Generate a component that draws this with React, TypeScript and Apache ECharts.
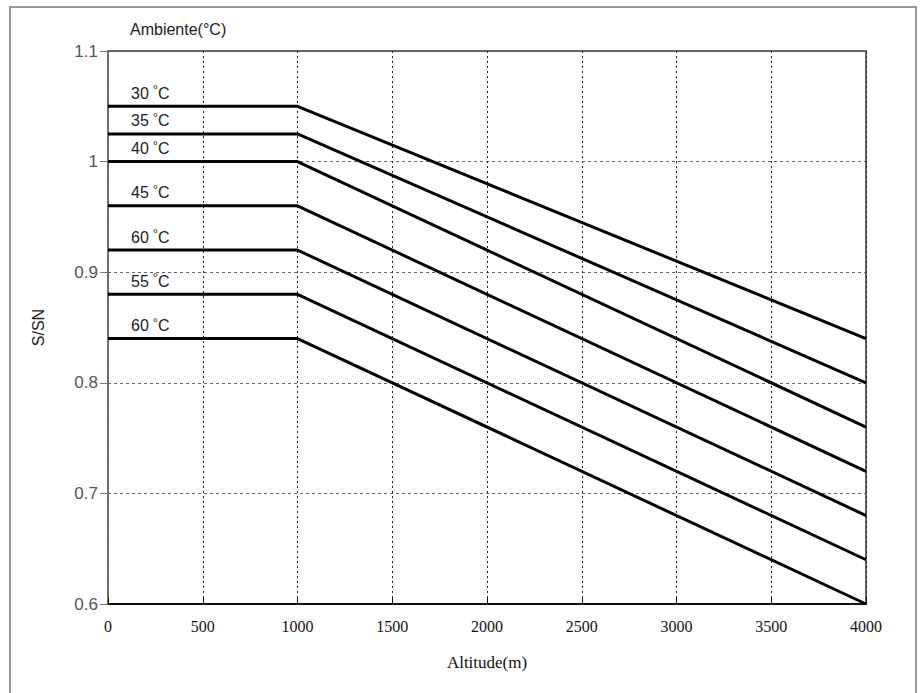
import React, { useEffect, useRef } from "react";
import * as echarts from "echarts";

const altitudes = [0, 1000, 4000];
const tempLabels = ["30", "35", "40", "45", "60", "55", "60"];
const startValues = [1.05, 1.025, 1.0, 0.96, 0.92, 0.88, 0.84];
const endValues = [0.84, 0.8, 0.76, 0.72, 0.68, 0.64, 0.6];
const xTicks = [0, 500, 1000, 1500, 2000, 2500, 3000, 3500, 4000];
const yTicks = [0.6, 0.7, 0.8, 0.9, 1, 1.1];

export default function App() {
  const ref = useRef<HTMLDivElement>(null);
  useEffect(() => {
    if (!ref.current) return;
    const chart = echarts.init(ref.current, null, { renderer: "svg" });
    const series = startValues.map((s, i) => ({
      type: "line",
      name: tempLabels[i],
      symbol: "circle",
      symbolSize: 0.1,
      showSymbol: true,
      itemStyle: { color: "rgba(0,0,0,0)" },
      lineStyle: { color: "#000", width: 3 },
      label: { show: false },
      data: [
        {
          value: [altitudes[0], s],
          label: {
            show: true,
            position: "right",
            offset: [18, -14],
            formatter: `{n|${tempLabels[i]}}{d|°}{c|C}`,
            rich: {
              n: { fontFamily: "Liberation Sans", fontSize: 16, color: "#222", verticalAlign: "bottom", lineHeight: 18 },
              d: { fontFamily: "Liberation Sans", fontSize: 13, color: "#222", verticalAlign: "top", lineHeight: 18, padding: [0, 0, 0, 4] },
              c: { fontFamily: "Liberation Sans", fontSize: 16, color: "#222", verticalAlign: "bottom", lineHeight: 18 },
            },
          },
        },
        [altitudes[1], s],
        [altitudes[2], endValues[i]],
      ],
    }));
    chart.setOption({
      animation: false,
      backgroundColor: "#fff",
      grid: {
        left: 108,
        right: 55,
        top: 51,
        bottom: 89,
        show: true,
        borderColor: "#333",
        borderWidth: 1.5,
        backgroundColor: "transparent",
      },
      graphic: [
        {
          type: "rect",
          shape: { x: 10, y: 7, width: 906, height: 700 },
          style: { fill: "none", stroke: "#999", lineWidth: 2 },
          silent: true,
        },
        {
          type: "text",
          left: 130,
          top: 21,
          style: { text: "Ambiente(°C)", fontFamily: "Liberation Sans", fontSize: 16, fill: "#222" },
        },
      ],
      xAxis: {
        type: "value",
        min: 0,
        max: 4000,
        interval: 500,
        name: "Altitude(m)",
        nameLocation: "middle",
        nameGap: 50,
        nameTextStyle: { fontFamily: "Liberation Serif", fontSize: 17, color: "#111" },
        axisLine: { show: true, lineStyle: { color: "#111", width: 2 } },
        axisTick: { show: true, inside: true, length: 6, lineStyle: { color: "#111" } },
        axisLabel: {
          fontFamily: "Liberation Serif",
          fontSize: 16,
          color: "#111",
          margin: 14,
          formatter: (v: number) => (xTicks.includes(v) ? String(v) : ""),
        },
        splitLine: { show: true, lineStyle: { color: "#222", type: [2, 3], width: 1 } },
      },
      yAxis: {
        type: "value",
        min: 0.6,
        max: 1.1,
        interval: 0.1,
        name: "S/SN",
        nameLocation: "middle",
        nameGap: 62,
        nameRotate: 90,
        nameTextStyle: { fontFamily: "Liberation Sans", fontSize: 16, color: "#222" },
        axisLine: { show: true, lineStyle: { color: "#777", width: 1.5 } },
        axisTick: { show: true, length: 8, lineStyle: { color: "#777" } },
        axisLabel: {
          fontFamily: "Liberation Sans",
          fontSize: 17,
          color: "#555",
          margin: 10,
          formatter: (v: number) => {
            const r = Math.round(v * 10) / 10;
            return yTicks.some((t) => Math.abs(t - r) < 1e-6) ? String(r) : "";
          },
        },
        splitLine: { show: true, lineStyle: { color: "#666", type: [3, 3], width: 1 } },
      },
      series,
    });
    return () => chart.dispose();
  }, []);
  return (
    <div
      ref={ref}
      style={{ position: "absolute", left: 0, top: 0, width: 921, height: 693 }}
    />
  );
}
